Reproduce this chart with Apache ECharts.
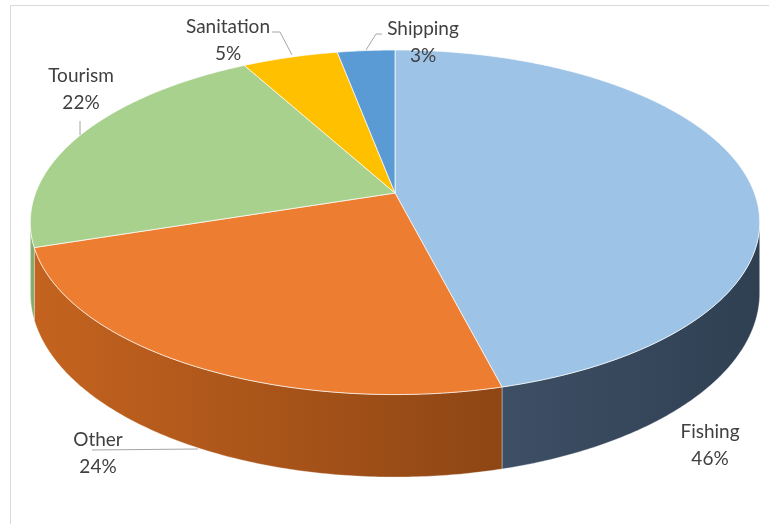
<!DOCTYPE html>
<html>
<head>
<meta charset="utf-8">
<script src="https://cdn.jsdelivr.net/npm/echarts@6/dist/echarts.min.js"></script>
<style>html,body{margin:0;padding:0;background:#fff;}#main{width:769px;height:524px;}</style>
</head>
<body>
<div id="main"></div>
<script>
// ---- data ----
const categories = ['Fishing', 'Other', 'Tourism', 'Sanitation', 'Shipping'];
const values = [46, 24, 22, 5, 3];

// ---- styles ----
const topColors = ['#9DC3E6', '#ED7D31', '#A9D18E', '#FFC000', '#5B9BD5'];
const sideFrom = ['#3D4F65', '#C4631F', '#8FB776', '#D9A300', '#4A84BA'];
const sideTo   = ['#30405333', '#8E4614', '#7AA060', '#B88A00', '#3D6E9E'];
sideTo[0] = '#304053';

// ---- projection of the tilted disc (perspective) ----
const CX = 395, CY = 193, RA = 359.4, RB = 167.3, PERS = 0.17, DEPTH = 68.5;
function proj(theta, bottom) {
  const u = Math.sin(theta), v = -Math.cos(theta), w = 1 - PERS * v;
  return [CX + RA * u / w, CY + RB * v / w + (bottom ? DEPTH / w : 0)];
}
const SIL_R = Math.acos(-PERS), SIL_L = 2 * Math.PI - SIL_R;
const total = values.reduce((a, b) => a + b, 0);
const cum = [0];
values.forEach(v => cum.push(cum[cum.length - 1] + v));

function arcPts(a0, a1, bottom) {
  const n = Math.max(2, Math.ceil(Math.abs(a1 - a0) / 0.01));
  const pts = [];
  for (let k = 0; k <= n; k++) pts.push(proj(a0 + (a1 - a0) * k / n, bottom));
  return pts;
}

function renderItem(params, api) {
  const i = params.dataIndex;
  const start = cum[i] / total * 2 * Math.PI;
  const end = cum[i + 1] / total * 2 * Math.PI;
  const children = [];
  const a0 = Math.max(start, SIL_R), a1 = Math.min(end, SIL_L);
  if (a1 > a0) {
    const pts = arcPts(a0, a1, false).concat(arcPts(a1, a0, true));
    const xs = pts.map(p => p[0]);
    children.push({
      type: 'polygon', z2: 1,
      shape: { points: pts },
      style: {
        fill: {
          type: 'linear', global: true,
          x: Math.min.apply(null, xs), y: 0, x2: Math.max.apply(null, xs), y2: 0,
          colorStops: [{ offset: 0, color: sideFrom[i] }, { offset: 1, color: sideTo[i] }]
        },
        stroke: 'rgba(255,255,255,0.45)', lineWidth: 0.8
      }
    });
  }
  const topPts = [[CX, CY]].concat(arcPts(start, end, false));
  children.push({
    type: 'polygon', z2: 10,
    shape: { points: topPts },
    style: { fill: topColors[i], stroke: 'rgba(255,255,255,0.7)', lineWidth: 1 }
  });
  return { type: 'group', children: children };
}

const pct = values.map(v => Math.round(v / total * 100) + '%');
const labelPos = [[710, 445], [98, 453], [81, 89], [228, 40], [423, 42]];
const txtStyle = { fontFamily: 'Lato', fontSize: 19, fill: '#404040', align: 'center', verticalAlign: 'middle', lineHeight: 27 };
const labelGraphics = categories.map((c, i) => ({
  type: 'text', x: labelPos[i][0], y: labelPos[i][1], z: 20,
  style: Object.assign({ text: c + '\n' + pct[i] }, txtStyle)
}));
const leaderStyle = { stroke: '#A6A6A6', lineWidth: 1, fill: null };
const leaders = [
  [[92, 450], [198, 449]],
  [[80, 121], [80, 135]],
  [[272, 32], [280, 32], [292, 55]],
  [[382, 34], [376, 34], [366, 50]]
].map(p => ({ type: 'polyline', z: 20, shape: { points: p }, style: leaderStyle }));

const chart = echarts.init(document.getElementById('main'), null, { renderer: 'canvas' });
chart.setOption({
  animation: false,
  backgroundColor: '#fff',
  graphic: [
    { type: 'rect', z: 0, shape: { x: 10.5, y: 5.5, width: 800, height: 600 }, style: { fill: null, stroke: '#D9D9D9', lineWidth: 1 } }
  ].concat(leaders, labelGraphics),
  series: [{
    type: 'custom',
    coordinateSystem: 'none',
    data: values.map((v, i) => ({ value: v, name: categories[i] })),
    renderItem: renderItem
  }]
});
</script>
</body>
</html>
